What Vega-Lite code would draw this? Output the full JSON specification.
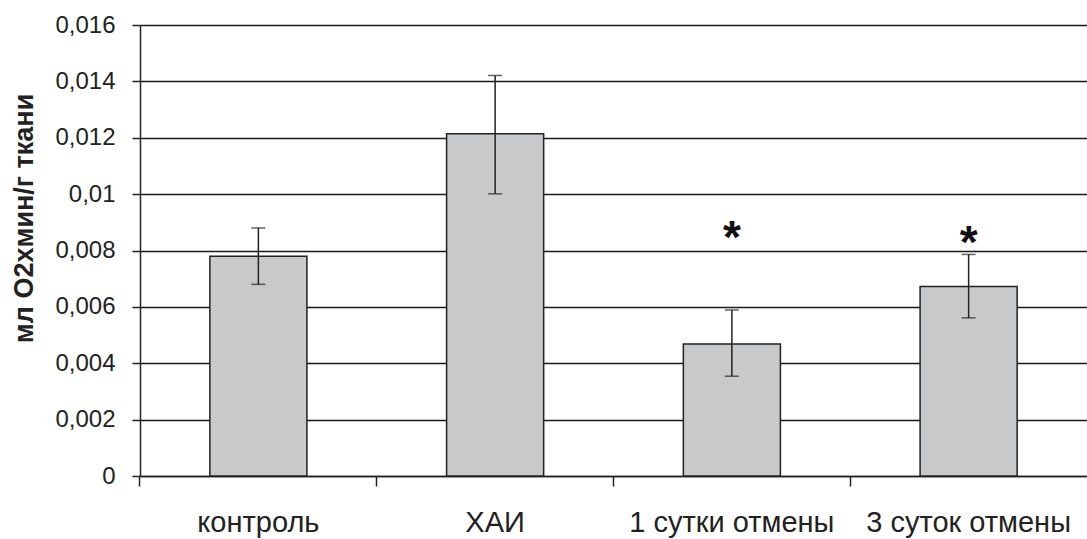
{
  "$schema": "https://vega.github.io/schema/vega-lite/v6.json",
  "autosize": "none",
  "width": 947,
  "height": 451,
  "padding": {"left": 140, "top": 25, "right": 0, "bottom": 63},
  "background": "white",
  "config": {
    "font": "Liberation Sans",
    "view": {"stroke": null}
  },
  "data": {
    "values": [
      {"group": "контроль", "value": 0.0078, "lo": 0.0068, "hi": 0.0088, "star": null},
      {"group": "ХАИ", "value": 0.01214, "lo": 0.01001, "hi": 0.01421, "star": null},
      {"group": "1 сутки отмены", "value": 0.00468, "lo": 0.00354, "hi": 0.00589, "star": 0.0087},
      {"group": "3 суток отмены", "value": 0.00672, "lo": 0.00561, "hi": 0.00786, "star": 0.0085}
    ]
  },
  "encoding": {
    "x": {
      "field": "group",
      "type": "nominal",
      "sort": null,
      "scale": {"paddingInner": 0.59, "paddingOuter": 0.295},
      "axis": {
        "title": null,
        "bandPosition": -0.72,
        "labelAngle": 0,
        "labelFontSize": 29,
        "labelColor": "#222",
        "labelPadding": 22,
        "labelLimit": 0,
        "labelBound": false,
        "labelOverlap": false,
        "tickSize": 10,
        "tickColor": "#222",
        "tickWidth": 1.5,
        "domainColor": "#222",
        "domainWidth": 1.5,
        "grid": false
      }
    }
  },
  "layer": [
    {
      "mark": {"type": "bar", "fill": "#c8c9cb", "stroke": "#222", "strokeWidth": 1.5},
      "encoding": {
        "y": {
          "field": "value",
          "type": "quantitative",
          "scale": {"domain": [0, 0.016], "nice": false},
          "axis": {
            "values": [0, 0.002, 0.004, 0.006, 0.008, 0.01, 0.012, 0.014, 0.016],
            "labelExpr": "replace(toString(datum.value), '.', ',')",
            "labelFontSize": 24,
            "labelColor": "#222",
            "labelPadding": 17,
            "tickSize": 8,
            "tickColor": "#222",
            "tickWidth": 1.5,
            "domainColor": "#222",
            "domainWidth": 1.5,
            "grid": true,
            "gridColor": "#1a1a1a",
            "gridWidth": 1.5,
            "title": "мл O2хмин/г ткани",
            "titleFontSize": 27,
            "titleFontWeight": "bold",
            "titleColor": "#222",
            "titleAngle": -90,
            "titleAlign": "center",
            "titleBaseline": "middle",
            "titleX": -116,
            "titleY": 193
          }
        }
      }
    },
    {
      "mark": {"type": "rule", "stroke": "#222", "strokeWidth": 1.5},
      "encoding": {
        "y": {"field": "lo", "type": "quantitative"},
        "y2": {"field": "hi"}
      }
    },
    {
      "mark": {"type": "tick", "color": "#222", "size": 14, "thickness": 1.5},
      "encoding": {"y": {"field": "hi", "type": "quantitative"}}
    },
    {
      "mark": {"type": "tick", "color": "#222", "size": 14, "thickness": 1.5},
      "encoding": {"y": {"field": "lo", "type": "quantitative"}}
    },
    {
      "transform": [{"filter": "datum.star != null"}],
      "mark": {"type": "text", "text": "*", "fontSize": 46, "fontWeight": "bold", "color": "#111", "baseline": "middle", "dy": 8},
      "encoding": {"y": {"field": "star", "type": "quantitative"}}
    }
  ]
}
